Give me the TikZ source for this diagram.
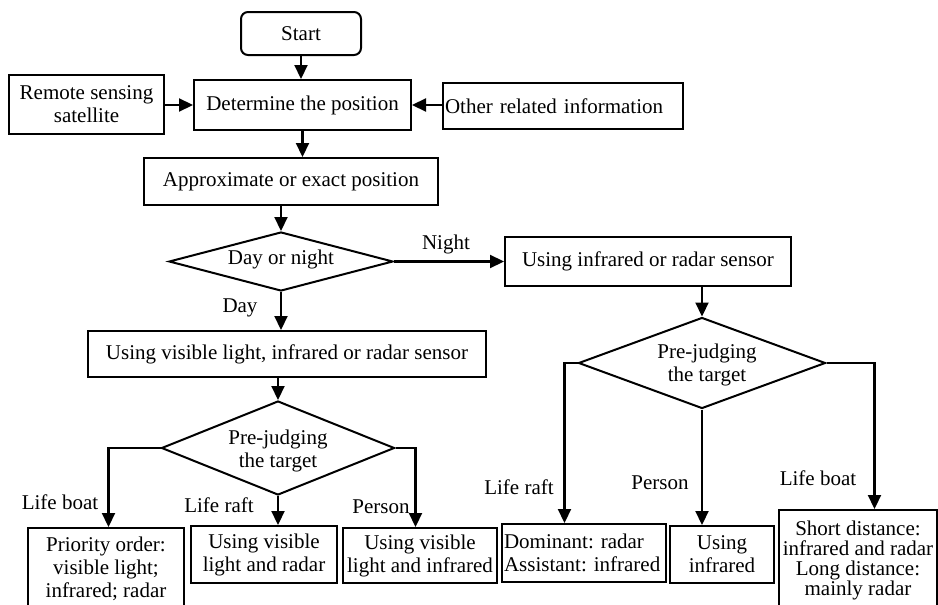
\documentclass[tikz,border=0pt]{standalone}
\usepackage{fontspec}
\setmainfont{Liberation Serif}
\usetikzlibrary{shapes.geometric,arrows.meta}
\frenchspacing
\begin{document}
\begin{tikzpicture}[x=1pt,y=-1pt,
  font=\fontsize{21}{23}\selectfont,
  box/.style={draw,line width=2pt,inner sep=0pt,align=center},
  dia/.style={draw,diamond,line width=2pt,inner sep=0pt},
  arr/.style={line width=2.2pt,-{Triangle[length=14pt,width=13pt]}},
  lbl/.style={inner sep=0pt},
]
\useasboundingbox (0,0) rectangle (938,605);
% boxes
\node[box,rounded corners=7pt,minimum width=120pt,minimum height=43pt] (start) at (301,33.5) {Start};
\node[box,minimum width=217pt,minimum height=50pt] (det) at (302.5,105) {Determine the position};
\node[box,minimum width=155pt,minimum height=59pt] (remote) at (86.5,104.5) {Remote sensing\\satellite};
\node[box,minimum width=240pt,minimum height=46pt,text width=236pt,align=left,inner xsep=2pt] (other) at (563,106) {Other related information};
\node[box,minimum width=294pt,minimum height=47pt] (approx) at (291,181.5) {Approximate or exact position};
\node[dia,minimum width=224pt,minimum height=59pt] (d1) at (281,261.5) {};
\node[lbl] (t1) at (281,259) {Day or night};
\node[box,minimum width=398pt,minimum height=46pt] (usevis) at (287,354) {Using visible light, infrared or radar sensor};
\node[box,minimum width=286pt,minimum height=49pt] (useir) at (648,261.5) {Using infrared or radar sensor};
\node[dia,minimum width=233pt,minimum height=94pt] (d2) at (278,448) {};
\node[lbl,align=center] (t2) at (278,451) {Pre-judging\\the target};
\node[dia,minimum width=247pt,minimum height=91pt] (d3) at (702,363) {};
\node[lbl,align=center] (t3) at (707,365) {Pre-judging\\the target};
\node[box,minimum width=156pt,minimum height=82pt] (b1) at (106,569) {Priority order:\\visible light;\\infrared; radar};
\node[box,minimum width=146pt,minimum height=57pt] (b2) at (264,554.5) {Using visible\\light and radar};
\node[box,minimum width=154pt,minimum height=55pt] (b3) at (420,555.5) {Using visible\\light and infrared};
\node[box,minimum width=164pt,minimum height=58pt,text width=160pt,align=left,inner xsep=2pt] (b4) at (584,553) {Dominant: radar\\Assistant: infrared};
\node[box,minimum width=104pt,minimum height=57pt] (b5) at (722,554.5) {Using\\infrared};
\node[box,minimum width=158pt,minimum height=100pt,font=\fontsize{21}{20}\selectfont] (b6) at (858,560) {Short distance:\\infrared and radar\\Long distance:\\mainly radar};
% labels
\node[lbl] (night) at (446,244) {Night};
\node[lbl] (day) at (240,308) {Day};
\node[lbl] (lb1) at (60,502) {Life boat};
\node[lbl] (lr1) at (219,505) {Life raft};
\node[lbl] (pe1) at (381,507) {Person};
\node[lbl] (lr2) at (519,487) {Life raft};
\node[lbl] (pe2) at (660,483) {Person};
\node[lbl] (lb2) at (818,478) {Life boat};
% connectors
\draw[arr] (start.south) -- (start.south |- det.north);
\draw[arr] (det.west -| remote.east) -- (det.west);
\draw[arr] (det.east -| other.west) -- (det.east);
\draw[arr] (det.south) -- (det.south |- approx.north);
\draw[arr] (d1.north |- approx.south) -- (d1.north);
\draw[arr] (d1.east) -- (d1.east -| useir.west);
\draw[arr] (d1.south) -- (d1.south |- usevis.north);
\draw[arr] (d2.north |- usevis.south) -- (d2.north);
\draw[arr] (d3.north |- useir.south) -- (d3.north);
\path (d2.west) ++(-52,0) coordinate (k1);
\path (d2.east) ++(20,0) coordinate (k2);
\path (d3.west) ++(-13,0) coordinate (k3);
\path (d3.east) ++(48,0) coordinate (k4);
\draw[arr] (d2.west) -- (k1) -- (k1 |- b1.north);
\draw[arr] (d2.south) -- (d2.south |- b2.north);
\draw[arr] (d2.east) -- (k2) -- (k2 |- b3.north);
\draw[arr] (d3.west) -- (k3) -- (k3 |- b4.north);
\draw[arr] (d3.south) -- (d3.south |- b5.north);
\draw[arr] (d3.east) -- (k4) -- (k4 |- b6.north);
\end{tikzpicture}
\end{document}
